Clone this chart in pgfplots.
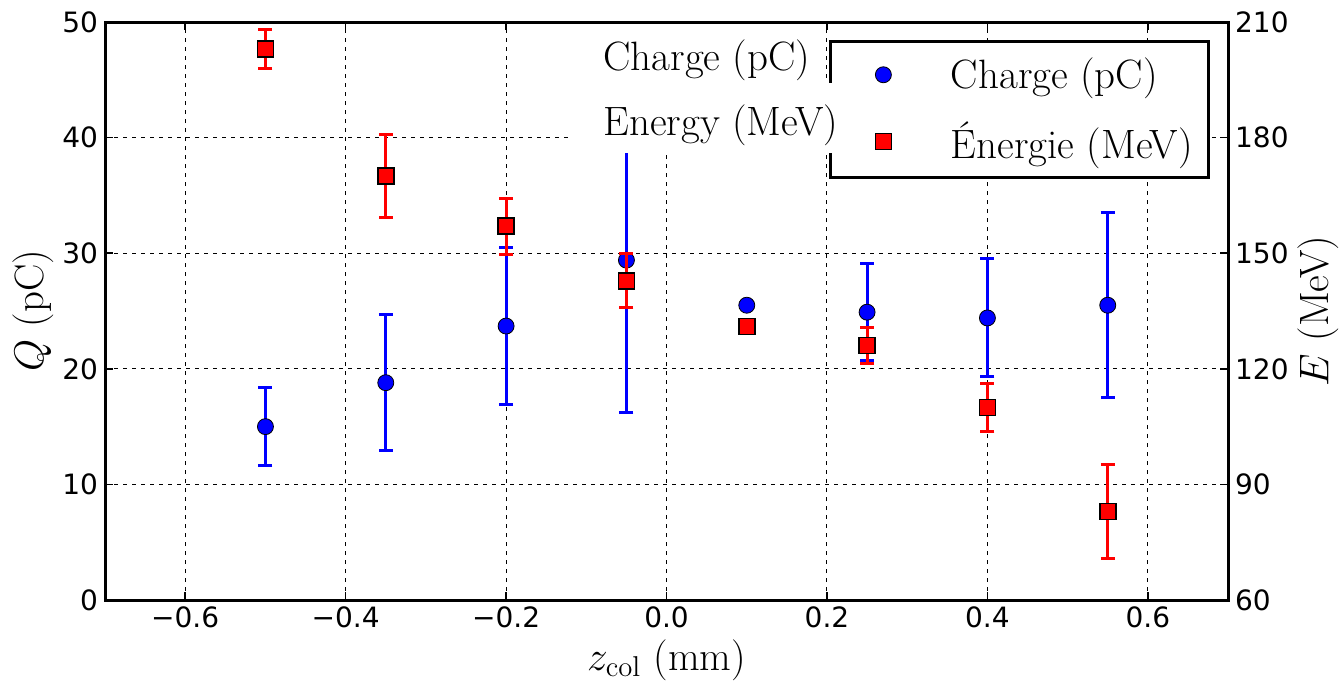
\documentclass[border=0pt]{standalone}
\usepackage{fontspec}
\usepackage{pgfplots}
\usepackage{pgfplotstable}
\pgfplotsset{compat=1.18}
\newfontfamily\dejavu{DejaVu Sans}
\pgfplotsset{myimg/.style={legend image code/.code={%
  \path (-19.5pt,0pt) (31pt,0pt);
  \draw[##1] plot coordinates {(0pt,0pt)};}}}

\pgfplotstableread{
x y e
-0.50 15.0 3.4
-0.35 18.8 5.9
-0.20 23.7 6.8
-0.05 29.4 13.2
0.10 25.5 0
0.25 24.9 4.2
0.40 24.4 5.1
0.55 25.5 8.0
}\charge

\pgfplotstableread{
x y e
-0.50 203.0 5.0
-0.35 170.0 10.8
-0.20 157.0 7.3
-0.05 142.8 7.0
0.10 131.0 0
0.25 126.0 4.6
0.40 110.0 6.2
0.55 83.0 12.2
}\energy

\begin{document}
\begin{tikzpicture}
\pgfplotsset{
  myaxis/.style={
    scale only axis, width=561.5pt, height=289pt,
    xmin=-0.7, xmax=0.7,
    at={(0,0)}, anchor=south west,
    tick align=inside,
    major tick length=4pt,
    tick style={black, line width=0.8pt},
    axis line style={line width=1.5pt},
    tick label style={font=\dejavu\fontsize{14}{16}\selectfont},
    /pgf/number format/assume math mode=true,
    label style={font=\fontsize{20.5}{24}\selectfont},
  }
}
\begin{axis}[myaxis,
  ymin=0, ymax=50, ytick={0,10,20,30,40,50},
  xtick={-0.6,-0.4,-0.2,0,0.2,0.4,0.6},
  xticklabels={−0.6,−0.4,−0.2,0.0,0.2,0.4,0.6},
  ytick pos=left, xtick pos=both,
  grid=major, grid style={black, line width=0.5pt, dash pattern=on 2pt off 2.5pt},
  xlabel={$z_{\mathrm{col}}$ (mm)}, ylabel={$Q$ (pC)},
  xlabel style={at={(axis description cs:0.5,-0.1038)}, anchor=center},
  ylabel style={at={(axis description cs:-0.0641,0.5)}, anchor=center},
]
\addplot[blue, only marks, mark=*, mark size=4pt,
  mark options={fill=blue, draw=black, line width=0.4pt},
  error bars/.cd, y dir=both, y explicit,
  error bar style={blue, line width=1.5pt},
  error mark options={rotate=90, blue, mark size=3.5pt, line width=1.5pt}]
  table[x=x, y=y, y error=e] {\charge};
\end{axis}

\begin{axis}[myaxis,
  ymin=60, ymax=210, ytick={60,90,120,150,180,210},
  axis y line*=right, axis x line=none,
  ylabel={$E$ (MeV)},
  ylabel style={at={(axis description cs:1.0801,0.5)}, anchor=center, rotate=0},
  legend cell align=left,
  legend style={at={(0.984,0.969)}, anchor=north east, draw=black, line width=1.5pt,
    font=\fontsize{20.5}{24}\selectfont, inner xsep=6pt, inner ysep=6.25pt, row sep=11pt},
]
\addlegendimage{only marks, mark=*, mark size=4pt, mark options={fill=blue, draw=black, line width=0.4pt}, myimg}
\addlegendentry{Charge (pC)}
\addplot[red, only marks, mark=square*, mark size=4pt,
  mark options={fill=red, draw=black, line width=0.8pt}, myimg,
  error bars/.cd, y dir=both, y explicit,
  error bar style={red, line width=1.5pt},
  error mark options={rotate=90, red, mark size=3.5pt, line width=1.5pt}]
  table[x=x, y=y, y error=e] {\energy};
\addlegendentry{Énergie (MeV)}
\end{axis}
% text annotations with white background, drawn over the legend
\fill[white] (232.5pt,258.5pt) rectangle (357.5pt,288pt);
\fill[white] (232.5pt,223.5pt) rectangle (371.5pt,258.5pt);
\node[anchor=west, font=\fontsize{20.5}{24}\selectfont, inner sep=0pt] at (249pt,270pt) {Charge (pC)};
\node[anchor=west, font=\fontsize{20.5}{24}\selectfont, inner sep=0pt] at (249pt,237.5pt) {Energy (MeV)};
\pgfresetboundingbox
\useasboundingbox (-52.5pt,-42.5pt) rectangle (616.97pt,300pt);
\end{tikzpicture}
\end{document}
